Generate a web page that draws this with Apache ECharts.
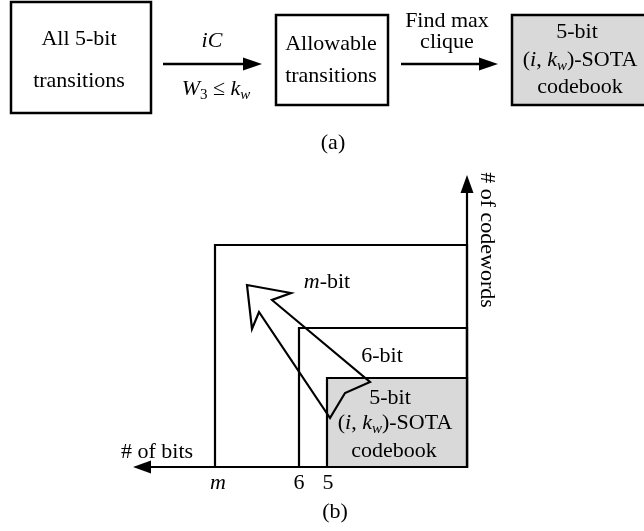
<!DOCTYPE html>
<html><head><meta charset="utf-8">
<script src="https://cdn.jsdelivr.net/npm/echarts@6/dist/echarts.min.js"></script>
<style>html,body{margin:0;padding:0;background:#fff}#main{width:644px;height:531px}</style>
</head><body><div id="main"></div>
<script>
// ---- Panel (a): construction flow, in layout units of the canvas ----
const flowBoxes = [[11, 2, 151, 113], [276, 15, 388, 105], [512, 15, 648, 105]];
const flowArrows = [[163, 64, 262, 64], [401, 64, 498, 64]];

// ---- Panel (b): nested codebook regions ----
const axisArrows = [[467, 467, 133, 467], [467, 467, 467, 175]];
const regionNames = ['m-bit', '6-bit', '5-bit'];
const regionBoxes = [[215, 245, 467, 467], [299, 328, 467, 467], [327, 378, 467, 467]];
const growthArrow = [[247, 285], [291, 293], [272, 300], [370, 382], [345, 393], [330, 418], [259, 312], [252, 329]];
const bitTicks = ['{it|m}', '6', '5'];
const bitTickX = [218, 299, 328];
const bitTickY = 483;

// ---- Text labels: [x, y, rich text, rotation] ----
const labels = [
  [79, 39, 'All 5-bit', 0],
  [79, 81, 'transitions', 0],
  [212, 41, '{it|iC}', 0],
  [216, 89, '{it|W}{subr|3} ≤ {it|k}{sub|w}', 0],
  [331, 44, 'Allowable', 0],
  [331, 76, 'transitions', 0],
  [447, 21, 'Find max', 0],
  [447, 42, 'clique', 0],
  [577, 32, '5-bit', 0],
  [580, 60, '({it|i}, {it|k}{sub|w})-SOTA', 0],
  [580, 87, 'codebook', 0],
  [333, 143, '(a)', 0],
  [327, 282, '{it|m}-bit', 0],
  [382, 356, '6-bit', 0],
  [390, 398, '5-bit', 0],
  [395, 423, '({it|i}, {it|k}{sub|w})-SOTA', 0],
  [394, 451, 'codebook', 0],
  [157, 452, '# of bits', 0],
  [487, 240, '# of codewords', -Math.PI / 2],
  [335, 512, '(b)', 0]
];

const FONT = '"Liberation Serif", "Times New Roman", serif';
const SIZE = 22;
const shadedFlow = [false, false, true];
const shadedRegion = [false, false, true];

const richStyles = {
  it: { fontFamily: FONT, fontSize: SIZE, fontStyle: 'italic', lineHeight: 28, verticalAlign: 'middle' },
  sub: { fontFamily: FONT, fontSize: 15, fontStyle: 'italic', lineHeight: 28, verticalAlign: 'bottom' },
  subr: { fontFamily: FONT, fontSize: 15, lineHeight: 28, verticalAlign: 'bottom' }
};

function arrowGroup(api, seg, lw, headLen, headHalf) {
  const a = api.coord([seg[0], seg[1]]);
  const b = api.coord([seg[2], seg[3]]);
  const dx = b[0] - a[0], dy = b[1] - a[1];
  const len = Math.sqrt(dx * dx + dy * dy);
  const ux = dx / len, uy = dy / len;
  const bx = b[0] - ux * headLen, by = b[1] - uy * headLen;
  return {
    type: 'group',
    children: [
      { type: 'line', shape: { x1: a[0], y1: a[1], x2: bx + ux, y2: by + uy },
        style: { stroke: '#000', lineWidth: lw } },
      { type: 'polygon', shape: { points: [
          [b[0], b[1]],
          [bx - uy * headHalf, by + ux * headHalf],
          [bx + uy * headHalf, by - ux * headHalf]
        ] }, style: { fill: '#000' } }
    ]
  };
}

function rectFrom(api, x0, y0, x1, y1) {
  const p0 = api.coord([x0, y0]);
  const p1 = api.coord([x1, y1]);
  return { x: p0[0], y: p0[1], width: p1[0] - p0[0], height: p1[1] - p0[1] };
}

const chart = echarts.init(document.getElementById('main'), null, { renderer: 'canvas' });
chart.setOption({
  backgroundColor: '#fff',
  animation: false,
  grid: { left: 0, right: 0, top: 0, bottom: 0 },
  xAxis: { type: 'value', min: 0, max: 644, show: false },
  yAxis: { type: 'value', min: 0, max: 531, inverse: true, show: false },
  series: [
    {
      name: 'flowBoxes', type: 'custom', silent: true,
      data: flowBoxes,
      renderItem: (params, api) => ({
        type: 'rect',
        shape: rectFrom(api, api.value(0), api.value(1), api.value(2), api.value(3)),
        style: { fill: shadedFlow[params.dataIndex] ? '#d9d9d9' : '#fff', stroke: '#000', lineWidth: 2.5 }
      })
    },
    {
      name: 'flowArrows', type: 'custom', silent: true,
      data: flowArrows,
      renderItem: (params, api) => arrowGroup(api, [api.value(0), api.value(1), api.value(2), api.value(3)], 2.6, 19, 6.5)
    },
    {
      name: 'regions', type: 'custom', silent: true,
      data: regionBoxes.map((b, i) => ({ name: regionNames[i], value: b })),
      renderItem: (params, api) => ({
        type: 'rect',
        shape: rectFrom(api, api.value(0), api.value(1), api.value(2), api.value(3)),
        style: { fill: shadedRegion[params.dataIndex] ? '#d9d9d9' : 'none', stroke: '#000', lineWidth: 2.2 }
      })
    },
    {
      name: 'axes', type: 'custom', silent: true,
      data: axisArrows,
      renderItem: (params, api) => arrowGroup(api, [api.value(0), api.value(1), api.value(2), api.value(3)], 2.2, 18, 6.5)
    },
    {
      name: 'growth', type: 'custom', silent: true,
      data: [0],
      renderItem: (params, api) => ({
        type: 'polygon',
        shape: { points: growthArrow.map(p => api.coord(p)) },
        style: { fill: 'none', stroke: '#000', lineWidth: 2.2, lineJoin: 'miter' }
      })
    },
    {
      name: 'bitTicks', type: 'custom', silent: true,
      data: bitTickX.map((x, i) => ({ value: [x, bitTickY], name: bitTicks[i] })),
      renderItem: (params, api) => {
        const p = api.coord([api.value(0), api.value(1)]);
        return {
          type: 'text', x: p[0], y: p[1],
          style: { text: bitTicks[params.dataIndex], fontFamily: FONT, fontSize: SIZE, fill: '#000',
                   align: 'center', verticalAlign: 'middle', lineHeight: 28, rich: richStyles }
        };
      }
    },
    {
      name: 'labels', type: 'custom', silent: true,
      data: labels.map(l => [l[0], l[1]]),
      renderItem: (params, api) => {
        const l = labels[params.dataIndex];
        const p = api.coord([api.value(0), api.value(1)]);
        return {
          type: 'text', x: p[0], y: p[1], rotation: l[3],
          style: { text: l[2], fontFamily: FONT, fontSize: SIZE, fill: '#000',
                   align: 'center', verticalAlign: 'middle', lineHeight: 28, rich: richStyles }
        };
      }
    }
  ]
});
</script></body></html>
